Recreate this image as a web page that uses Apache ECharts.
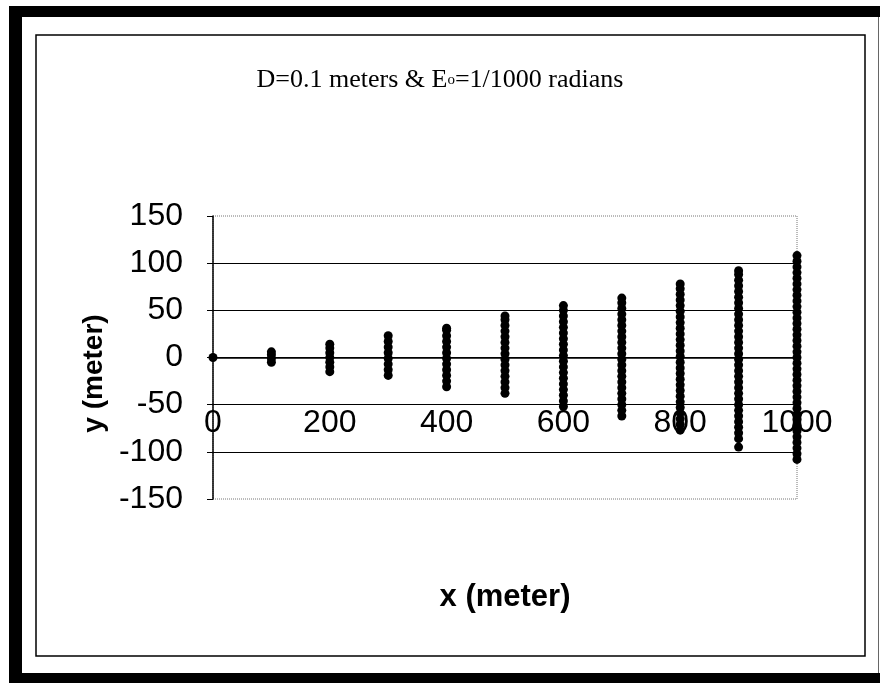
<!DOCTYPE html>
<html>
<head>
<meta charset="utf-8">
<script src="https://cdn.jsdelivr.net/npm/echarts@6/dist/echarts.min.js"></script>
<style>html,body{margin:0;padding:0;background:#fff}#c{width:880px;height:683px}</style>
</head>
<body>
<div id="c"></div>
<script>
var xTicks = [0, 200, 400, 600, 800, 1000];
var yTicks = [-150, -100, -50, 0, 50, 100, 150];
var xColumns = [0, 100, 200, 300, 400, 500, 600, 700, 800, 900, 1000];
var col0 = [0];
var col100 = [-5, -1, 3, 6];
var col200 = [-15, -10, -5, 0, 5, 10, 14];
var col300 = [-19, -13, -7, -1, 5, 11, 17, 23];
var col400 = [-31, -25, -19, -13, -7, -1, 5, 11, 17, 23, 29, 31];
var col500 = [-38, -32, -26, -20, -14, -8, -2, 4, 10, 16, 22, 28, 34, 40, 44];
var col600 = [-52, -46, -40, -34, -28, -22, -16, -10, -4, 2, 8, 14, 20, 26, 32, 38, 44, 50, 55];
var col700 = [-62, -56, -50, -44, -38, -32, -26, -20, -14, -8, -2, 4, 10, 16, 22, 28, 34, 40, 46, 52, 58, 63];
var col800 = [-77, -71, -65, -59, -53, -47, -41, -35, -29, -23, -17, -11, -5, 1, 7, 13, 19, 25, 31, 37, 43, 49, 55, 61, 67, 73, 78];
var col900 = [-95, -86, -80, -74, -68, -62, -56, -50, -44, -38, -32, -26, -20, -14, -8, -2, 4, 10, 16, 22, 28, 34, 40, 46, 52, 58, 64, 70, 76, 82, 88, 92];
var col1000 = [-108, -102, -96, -90, -84, -78, -72, -66, -60, -54, -48, -42, -36, -30, -24, -18, -12, -6, 0, 6, 12, 18, 24, 30, 36, 42, 48, 54, 60, 66, 72, 78, 84, 90, 96, 102, 108];
var columns = [col0, col100, col200, col300, col400, col500, col600, col700, col800, col900, col1000];

var points = [];
columns.forEach(function (col, i) {
  col.forEach(function (v) { points.push([xColumns[i], v]); });
});

var chart = echarts.init(document.getElementById('c'), null, {renderer: 'canvas'});
var sans = '"Liberation Sans", Arial, sans-serif';
var serif = '"Liberation Serif", "Times New Roman", serif';
chart.setOption({
  animation: false,
  backgroundColor: '#fff',
  title: {
    text: '{a|D=0.1 meters & E}{s|o}{a|=1/1000 radians}',
    left: 'center',
    top: 62,
    textStyle: {
      fontWeight: 'normal',
      rich: {
        a: {fontFamily: serif, fontSize: 26, fontWeight: 'normal', color: '#000'},
        s: {fontFamily: serif, fontSize: 15, fontWeight: 'normal', color: '#000'}
      }
    }
  },
  graphic: [
    {type: 'rect', shape: {x: 9, y: 6, width: 871, height: 11}, style: {fill: '#000'}},
    {type: 'rect', shape: {x: 9, y: 6, width: 13, height: 677}, style: {fill: '#000'}},
    {type: 'rect', shape: {x: 9, y: 673, width: 871, height: 10}, style: {fill: '#000'}},
    {type: 'line', shape: {x1: 878.5, y1: 17, x2: 878.5, y2: 673}, style: {stroke: '#666', lineWidth: 1}},
    {type: 'rect', shape: {x: 36, y: 35, width: 829, height: 621}, style: {fill: 'none', stroke: '#000', lineWidth: 1.5}}
  ],
  grid: {
    left: 213, right: 83, top: 216, bottom: 184,
    containLabel: false, outerBoundsMode: 'none',
    show: true, borderColor: '#777', borderWidth: 1, borderType: 'dotted', backgroundColor: 'transparent'
  },
  xAxis: {
    type: 'value', min: 0, max: 1000, interval: 200,
    position: 'bottom',
    offset: -141.5,
    name: 'x (meter)', nameLocation: 'middle', nameGap: 224,
    nameTextStyle: {fontFamily: sans, fontWeight: 'bold', fontSize: 31, color: '#000'},
    axisLine: {onZero: false, lineStyle: {color: '#000', width: 1.5}},
    axisTick: {show: false},
    axisLabel: {margin: 50, fontFamily: sans, fontSize: 32, color: '#000', formatter: function (v) { return String(v); }},
    splitLine: {show: false}
  },
  yAxis: {
    type: 'value', min: -150, max: 150, interval: 50,
    name: 'y (meter)', nameLocation: 'middle', nameGap: 103, nameRotate: 90,
    nameTextStyle: {fontFamily: sans, fontWeight: 'bold', fontSize: 28, color: '#000', padding: [0, 32, 0, 0]},
    axisLine: {show: true, lineStyle: {color: '#000', width: 1.5}},
    axisTick: {show: true, length: 6, lineStyle: {color: '#000'}},
    axisLabel: {margin: 30, fontFamily: sans, fontSize: 32, color: '#000'},
    splitLine: {show: true, lineStyle: {color: ['rgba(0,0,0,0)', '#000', '#000', '#000', '#000', '#000', 'rgba(0,0,0,0)'], width: 1.2}}
  },
  series: [{
    type: 'scatter',
    data: points,
    symbol: 'circle',
    symbolSize: 9,
    itemStyle: {color: '#000', opacity: 1}
  }]
});
</script>
</body>
</html>
